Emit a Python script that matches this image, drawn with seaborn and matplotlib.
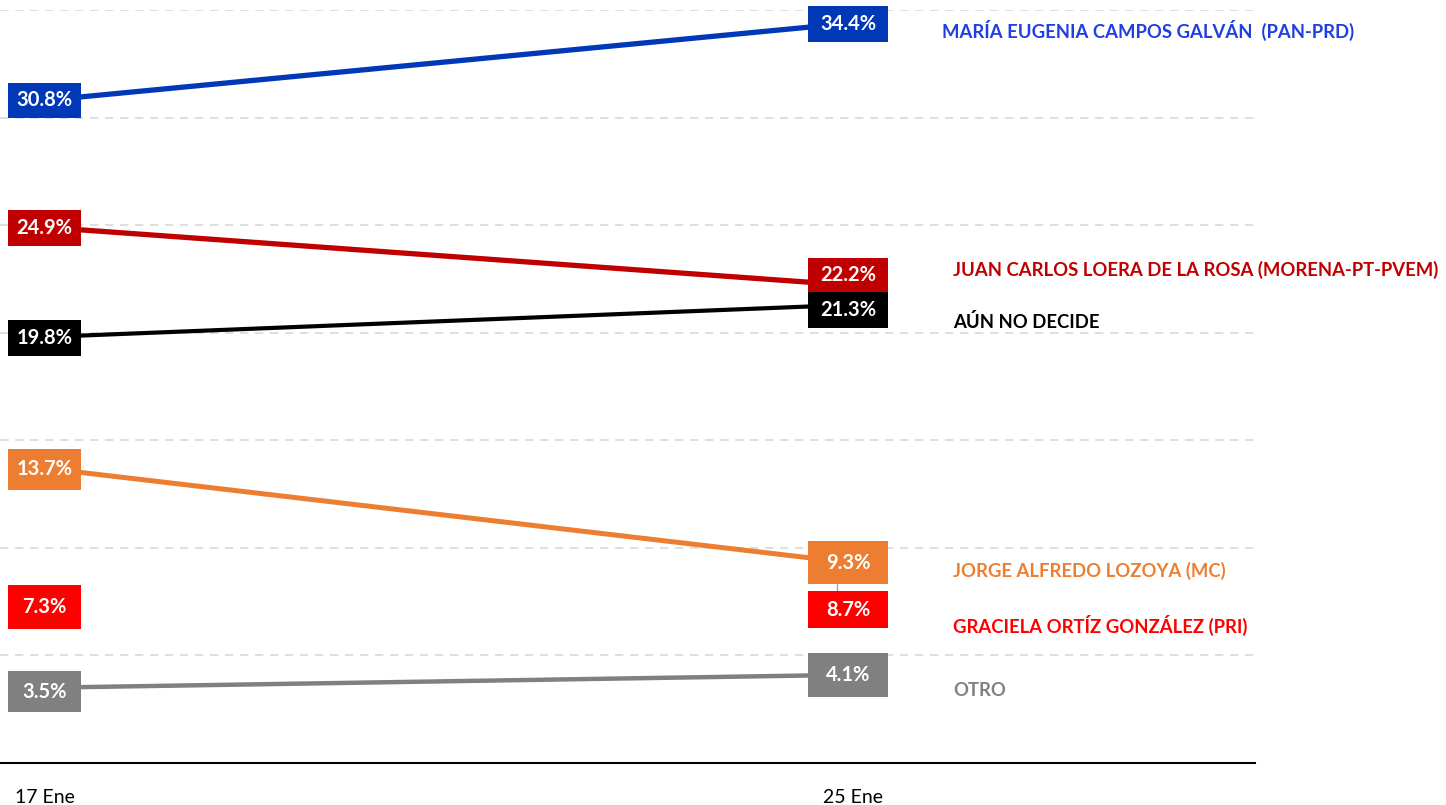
import matplotlib
matplotlib.use("Agg")
import matplotlib.pyplot as plt
from matplotlib.patches import Rectangle
from matplotlib.transforms import IdentityTransform
import seaborn as sns
import pandas as pd

# ---- data ----
dates = ["17 Ene", "25 Ene"]
candidates = [
    "MARÍA EUGENIA CAMPOS GALVÁN  (PAN-PRD)",
    "JUAN CARLOS LOERA DE LA ROSA (MORENA-PT-PVEM)",
    "AÚN NO DECIDE",
    "JORGE ALFREDO LOZOYA (MC)",
    "GRACIELA ORTÍZ GONZÁLEZ (PRI)",
    "OTRO",
]
values_17 = [30.8, 24.9, 19.8, 13.7, 7.3, 3.5]
values_25 = [34.4, 22.2, 21.3, 9.3, 8.7, 4.1]
with_line = [True, True, True, True, False, True]

# ---- styles ----
box_colors = ["#0038B8", "#C00000", "#000000", "#ED7D31", "#FF0000", "#808080"]
name_colors = ["#1F3FE0", "#C00000", "#000000", "#ED7D31", "#FF0000", "#808080"]
line_widths = [3.8, 3.8, 3.0, 3.6, 3.0, 3.2]
# label offsets in pixels (positive = up)
off_left = [0, -1, -1, -1, -1, -4]
off_right = [-1, 10, -5, 0, -34, 0]
h_left = [35, 36, 36, 41, 44, 41]
h_right = [36, 35, 36, 43, 37, 44]
name_off = [-8, 15, -17, -8, -50, -16]
name_dx = [-11, 0, 0, 0, 0, 0]

rows = []
for c, a, b, w in zip(candidates, values_17, values_25, with_line):
    if w:
        rows.append({"fecha": 0, "valor": a, "cand": c})
        rows.append({"fecha": 1, "valor": b, "cand": c})
df = pd.DataFrame(rows)

sns.set_theme(style="white")
plt.rcParams["font.family"] = ["Lato", "DejaVu Sans"]

fig = plt.figure(figsize=(14.46, 8.05), dpi=100)
ax = fig.add_axes([0.0, 42 / 805, 1255 / 1446, (763 - 10) / 805])

ax.set_ylim(0, 35)
ax.set_xlim(-45 / 808, 1210 / 808)

for yv in range(5, 36, 5):
    ax.axhline(yv, color="#D9D9D9", lw=1.2, ls=(0, (5, 4)), zorder=0)

pal = {c: col for c, col, w in zip(candidates, box_colors, with_line) if w}
for c, lw, w in zip(candidates, line_widths, with_line):
    if not w:
        continue
    sns.lineplot(data=df[df["cand"] == c], x="fecha", y="valor", color=pal[c],
                 lw=lw, ax=ax, legend=False, zorder=2)

fig.canvas.draw()
H = fig.bbox.height


def box(xv, val, dx, dy, w, h, color, label):
    px, py = ax.transData.transform((xv, val))
    cx, cy = px + dx, py + dy
    r = Rectangle((cx - w / 2, cy - h / 2), w, h, transform=IdentityTransform(),
                  facecolor=color, edgecolor="none", zorder=5)
    fig.add_artist(r)
    fig.text(cx / fig.bbox.width, cy / H, label, ha="center", va="center",
             color="white", fontsize=14.5, fontweight="bold", zorder=6)
    return cx, cy, h


# connector between 9.3 and 8.7 boxes
p1 = ax.transData.transform((1, values_25[3]))
p2 = ax.transData.transform((1, values_25[4]))
cx = p1[0] - 16
fig.add_artist(plt.Line2D([cx, cx], [p1[1] - h_right[3] / 2, p2[1] + off_right[4] + h_right[4] / 2],
                          transform=IdentityTransform(), color="#A6A6A6", lw=1.0, zorder=4))

for i, c in enumerate(candidates):
    box(0, values_17[i], -0.5, off_left[i], 73, h_left[i], box_colors[i], f"{values_17[i]:.1f}%")
    box(1, values_25[i], -5, off_right[i], 80, h_right[i], box_colors[i], f"{values_25[i]:.1f}%")
    ax.annotate(c, xy=(1, values_25[i]), xytext=(100 + name_dx[i], name_off[i]),
                textcoords="offset pixels", ha="left", va="center", color=name_colors[i],
                fontsize=13.3, fontweight="bold", annotation_clip=False)

ax.set_xticks([0, 1])
ax.set_xticklabels(dates, fontsize=14, color="#000000")
ax.set_yticks([])
ax.set_xlabel("")
ax.set_ylabel("")
ax.tick_params(axis="x", length=0, pad=19)
for s in ["top", "right", "left"]:
    ax.spines[s].set_visible(False)
ax.spines["bottom"].set_color("#000000")
ax.spines["bottom"].set_linewidth(1.5)

fig.savefig("out.png", dpi=100)
